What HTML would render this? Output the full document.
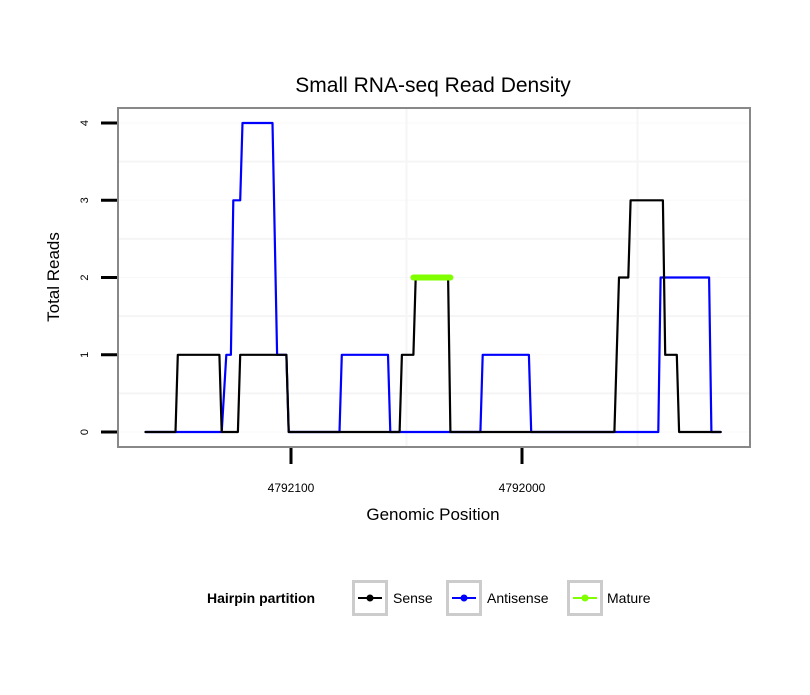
<!DOCTYPE html>
<html><head><meta charset="utf-8"><style>
body{margin:0;background:#fff;font-family:"Liberation Sans",sans-serif}
</style></head><body>
<svg id="chart" width="810" height="690" viewBox="0 0 810 690" xmlns="http://www.w3.org/2000/svg" font-family="Liberation Sans, sans-serif">
<rect width="810" height="690" fill="#fff"/>
<text x="433" y="92" font-size="21" text-anchor="middle">Small RNA-seq Read Density</text>
<g id="grid"></g>
<g id="series"></g>
<rect x="118" y="108" width="632" height="339" fill="none" stroke="#888" stroke-width="2"/>
<g id="axes"></g>
<text transform="translate(59,277) rotate(-90)" font-size="17" text-anchor="middle">Total Reads</text>
<text x="433" y="520" font-size="17" text-anchor="middle">Genomic Position</text>
<g>
<text x="207" y="603" font-size="14" font-weight="bold">Hairpin partition</text>
<g>
<rect x="353.5" y="581.5" width="33" height="33" fill="#fff" stroke="#ccc" stroke-width="3"/>
<line x1="358" y1="598" x2="382" y2="598" stroke="#000" stroke-width="2"/><circle cx="370" cy="598" r="3.5" fill="#000"/>
<text x="393" y="603" font-size="14">Sense</text></g>
<g>
<rect x="447.5" y="581.5" width="33" height="33" fill="#fff" stroke="#ccc" stroke-width="3"/>
<line x1="452" y1="598" x2="476" y2="598" stroke="#00f" stroke-width="2"/><circle cx="464" cy="598" r="3.5" fill="#00f"/>
<text x="487" y="603" font-size="14">Antisense</text></g>
<g>
<rect x="568.5" y="581.5" width="33" height="33" fill="#fff" stroke="#ccc" stroke-width="3"/>
<line x1="573" y1="598" x2="597" y2="598" stroke="#7fff00" stroke-width="2"/><circle cx="585" cy="598" r="3.5" fill="#7fff00"/>
<text x="607" y="603" font-size="14">Mature</text></g>
</g>
</svg>
<script>
const senseX=[4792163,4792150,4792149,4792131,4792130,4792123,4792122,4792102,4792101,4792053,4792052,4792047,4792046,4792032,4792031,4791960,4791958,4791954,4791953,4791939,4791938,4791933,4791932,4791914];
const senseY=[0,0,1,1,0,0,1,1,0,0,1,1,2,2,0,0,2,2,3,3,1,1,0,0];
const antiX=[4792163,4792130,4792128,4792126,4792125,4792122,4792121,4792108,4792106,4792102,4792101,4792079,4792078,4792058,4792057,4792018,4792017,4791997,4791996,4791941,4791940,4791919,4791918,4791914];
const antiY=[0,0,1,1,3,3,4,4,1,1,0,0,1,1,0,0,1,1,0,0,2,2,0,0];
const matureX=[4792047,4792031];
const matureY=[2,2];
const xTicks=[4792100,4792000];
const xTickLabels=["4792100","4792000"];
const yTicks=[0,1,2,3,4];
const xMinor=[4792050,4791950];
const yMinor=[0.5,1.5,2.5,3.5];
const NS="http://www.w3.org/2000/svg";
function sx(p){return 291+(4792100-p)*2.31;}
function sy(v){return 432-v*77.25;}
function mk(tag,attrs,parent){const e=document.createElementNS(NS,tag);for(const k in attrs)e.setAttribute(k,attrs[k]);parent.appendChild(e);return e;}
const grid=document.getElementById('grid'),ser=document.getElementById('series'),ax=document.getElementById('axes');
yMinor.forEach(v=>{const l=mk('line',{x1:119,x2:749,y1:sy(v),y2:sy(v),stroke:'#f5f5f5','stroke-width':2},grid);

});
yTicks.forEach(v=>{const l=mk('line',{x1:119,x2:749,y1:sy(v),y2:sy(v),stroke:'#f8f8f8','stroke-width':1},grid);

});
xMinor.forEach(p=>{const l=mk('line',{x1:sx(p),x2:sx(p),y1:109,y2:446,stroke:'#f5f5f5','stroke-width':2},grid);

});
function line(xs,ys,color,w,name){const pts=xs.map((x,i)=>sx(x).toFixed(1)+','+sy(ys[i]).toFixed(1)).join(' ');
const p=mk('polyline',{points:pts,fill:'none',stroke:color,'stroke-width':w,'stroke-linejoin':'round','stroke-linecap':'round'},ser);

}
line(antiX,antiY,'#0000ff',2.2,'antisense-line');
line(senseX,senseY,'#000000',2.2,'sense-line');
line(matureX,matureY,'#7fff00',6,'mature-line');
yTicks.forEach(v=>{const t=mk('line',{x1:101,x2:117,y1:sy(v),y2:sy(v),stroke:'#000','stroke-width':3},ax);


const tx=mk('text',{transform:'translate(88,'+sy(v)+') rotate(-90)','font-size':11,'text-anchor':'middle'},ax);tx.textContent=v;

});
xTicks.forEach((p,i)=>{const t=mk('line',{x1:sx(p),x2:sx(p),y1:448,y2:464,stroke:'#000','stroke-width':3},ax);


const tx=mk('text',{x:sx(p),y:492,'font-size':12,'text-anchor':'middle'},ax);tx.textContent=xTickLabels[i];

});
</script>
</body></html>
